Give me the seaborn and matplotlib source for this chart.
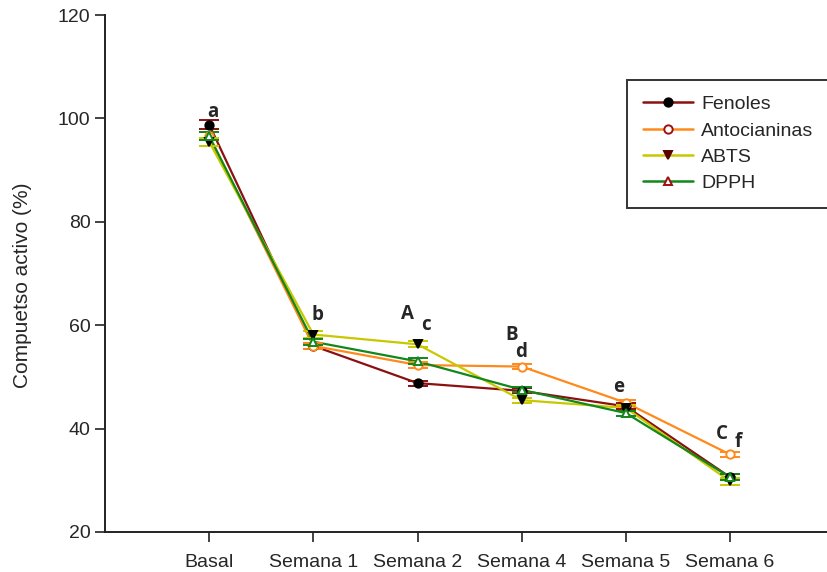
import numpy as np
import pandas as pd
import matplotlib
matplotlib.use("Agg")
import matplotlib.pyplot as plt
from matplotlib.lines import Line2D
import seaborn as sns

# Sampling times
categories = ["Basal", "Semana 1", "Semana 2", "Semana 4", "Semana 5", "Semana 6"]

# Active compound retained (%) and standard deviation per series
fenoles = [98.8, 56.0, 48.8, 47.3, 44.3, 30.6]
fenoles_sd = [0.8, 0.6, 0.5, 0.5, 0.6, 0.6]
antocianinas = [96.6, 56.0, 52.3, 52.0, 45.0, 35.0]
antocianinas_sd = [0.8, 0.6, 0.6, 0.5, 0.6, 0.5]
abts = [95.5, 58.2, 56.3, 45.5, 44.0, 29.8]
abts_sd = [0.8, 0.7, 0.6, 0.5, 0.6, 0.7]
dpph = [96.6, 56.8, 53.0, 47.5, 43.0, 30.6]
dpph_sd = [0.8, 0.6, 0.6, 0.5, 0.5, 0.6]

# Significance letters: (x position, y value, text)
letters = [
    (0.04, 101.2, "a"), (1.04, 61.9, "b"), (1.90, 62.2, "A"), (2.08, 60.1, "c"),
    (2.90, 58.2, "B"), (2.99, 54.9, "d"), (3.93, 48.1, "e"),
    (4.92, 39.0, "C"), (5.08, 37.4, "f"),
]

series = {
    "Fenoles": (fenoles, fenoles_sd),
    "Antocianinas": (antocianinas, antocianinas_sd),
    "ABTS": (abts, abts_sd),
    "DPPH": (dpph, dpph_sd),
}
styles = {
    "Fenoles": dict(color="#8B1010", marker="o", mfc="black", mec="black"),
    "Antocianinas": dict(color="#FF8A1C", marker="o", mfc="white", mec="#FF8A1C"),
    "ABTS": dict(color="#C8C800", marker="v", mfc="black", mec="black"),
    "DPPH": dict(color="#12871A", marker="^", mfc="white", mec="#12871A"),
}

rows = []
for name, (vals, sds) in series.items():
    for i, (v, s) in enumerate(zip(vals, sds)):
        rows.append({"pos": i, "valor": v, "sd": s, "serie": name})
df = pd.DataFrame(rows)

sns.set_theme(style="ticks")
plt.rcParams["font.family"] = ["Liberation Sans", "DejaVu Sans"]

fig = plt.figure(figsize=(8.28, 5.72), dpi=100)
ax = fig.add_axes([105 / 828, 1 - 532 / 572, 723 / 828, 517 / 572])

palette = {k: v["color"] for k, v in styles.items()}
sns.lineplot(data=df, x="pos", y="valor", hue="serie", palette=palette,
             linewidth=1.6, legend=False, ax=ax, sort=False, zorder=2)

for name, (vals, sds) in series.items():
    st = styles[name]
    x = np.arange(len(vals))
    ax.errorbar(x, vals, yerr=sds, fmt="none", ecolor=st["color"],
                elinewidth=1.2, capsize=7, capthick=1.4, zorder=3)
    ax.plot(x, vals, linestyle="none", marker=st["marker"], markersize=6,
            markerfacecolor=st["mfc"], markeredgecolor=st["mec"],
            markeredgewidth=1.4, zorder=4)

for x, y, t in letters:
    ax.text(x, y, t, ha="center", va="center", fontsize=13.5,
            fontweight="bold", family=["Open Sans", "DejaVu Sans"], zorder=5)

ax.set_xlim(-1, 5.94)
ax.set_ylim(20, 120)
ax.set_yticks([20, 40, 60, 80, 100, 120])
ax.set_xticks(range(len(categories)))
ax.set_xticklabels(categories)
ax.tick_params(axis="both", labelsize=14, direction="out", length=7,
               width=1.2, color="#222222")
ax.tick_params(axis="x", pad=9)
ax.set_xlabel("")
ax.set_ylabel("Compuetso activo (%)", fontsize=15)
ax.yaxis.set_label_coords(-0.101, 0.478)
for sp in ["top", "right"]:
    ax.spines[sp].set_visible(False)
for sp in ["left", "bottom"]:
    ax.spines[sp].set_linewidth(1.4)
    ax.spines[sp].set_color("#222222")

legend_marks = {
    "Fenoles": dict(marker="o", mfc="black", mec="black"),
    "Antocianinas": dict(marker="o", mfc="white", mec="#A01010"),
    "ABTS": dict(marker="v", mfc="#5A0000", mec="#5A0000"),
    "DPPH": dict(marker="^", mfc="white", mec="#A01010"),
}
handles = [
    Line2D([0], [0], color=styles[n]["color"], lw=1.8, marker=legend_marks[n]["marker"],
           markersize=6, markerfacecolor=legend_marks[n]["mfc"],
           markeredgecolor=legend_marks[n]["mec"], markeredgewidth=1.4)
    for n in series
]
leg = ax.legend(handles, list(series.keys()), loc="upper left",
                bbox_to_anchor=((627 - 105) / 723, (532 - 80) / 517),
                fontsize=14, frameon=True, fancybox=False, edgecolor="black",
                handlelength=2.6, handletextpad=0.4, labelspacing=0.45,
                borderpad=0.8, borderaxespad=0)
leg.get_frame().set_linewidth(1.4)

fig.savefig("out.png", dpi=100)
